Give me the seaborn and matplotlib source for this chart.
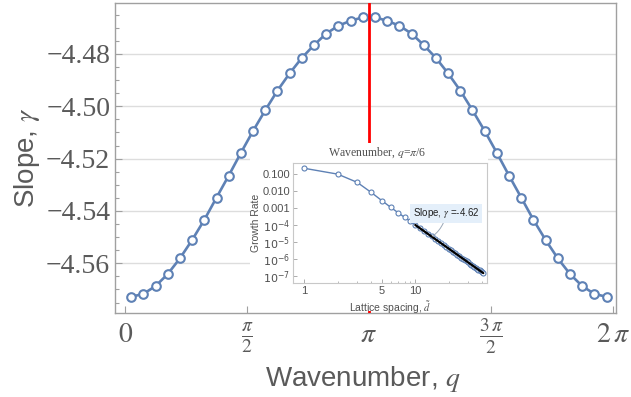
import numpy as np
import pandas as pd
import matplotlib
matplotlib.use("Agg")
import matplotlib.pyplot as plt
import seaborn as sns
from matplotlib.patches import Rectangle
from matplotlib.ticker import FixedLocator, MultipleLocator, NullFormatter, FixedFormatter

# ---------------- data ----------------
q_values = [0.0785, 0.2356, 0.3927, 0.5498, 0.7069, 0.8639, 1.0210, 1.1781, 1.3352, 1.4923,
            1.6493, 1.8064, 1.9635, 2.1206, 2.2777, 2.4347, 2.5918, 2.7489, 2.9060, 3.0631,
            3.2201, 3.3772, 3.5343, 3.6914, 3.8485, 4.0055, 4.1626, 4.3197, 4.4768, 4.6338,
            4.7909, 4.9480, 5.1051, 5.2622, 5.4192, 5.5763, 5.7334, 5.8905, 6.0476, 6.2046]
slope_values = [-4.5728, -4.5717, -4.5687, -4.5641, -4.5581, -4.5511, -4.5434, -4.5349, -4.5265, -4.5178,
                -4.5094, -4.5015, -4.4940, -4.4874, -4.4815, -4.4766, -4.4722, -4.4692, -4.4673, -4.4660,
                -4.4660, -4.4673, -4.4692, -4.4722, -4.4766, -4.4815, -4.4874, -4.4940, -4.5015, -4.5094,
                -4.5178, -4.5265, -4.5349, -4.5434, -4.5511, -4.5581, -4.5641, -4.5687, -4.5717, -4.5728]
highlight_q = [np.pi]

main_yticks = [-4.56, -4.54, -4.52, -4.50, -4.48]
main_ytick_labels = ["\u22124.56", "\u22124.54", "\u22124.52", "\u22124.50", "\u22124.48"]
main_xticks = [0, np.pi / 2, np.pi, 3 * np.pi / 2, 2 * np.pi]
main_xtick_labels = [r"$0$", r"$\frac{\pi}{2}$", r"$\pi$", r"$\frac{3\,\pi}{2}$", r"$2\,\pi$"]

lattice_d = [1, 2, 3, 4, 5, 6, 7, 8, 9, 10, 11, 12, 13, 14, 15, 16, 17, 18, 19, 20, 21,
             22, 23, 24, 25, 26, 27, 28, 29, 30, 31, 32, 33, 34, 35, 36, 37, 38, 39, 40, 41]
growth_rate = [0.216, 0.098, 0.032, 0.0083, 0.0027, 0.0011, 5.25e-4, 2.82e-4, 1.66e-4, 1.0e-4,
               6.44e-5, 4.31e-5, 2.98e-5, 2.11e-5, 1.54e-5, 1.14e-5, 8.61e-6, 6.62e-6, 5.16e-6, 4.07e-6,
               3.25e-6, 2.62e-6, 2.13e-6, 1.75e-6, 1.45e-6, 1.21e-6, 1.02e-6, 8.59e-7, 7.31e-7, 6.25e-7,
               5.37e-7, 4.64e-7, 4.02e-7, 3.50e-7, 3.06e-7, 2.69e-7, 2.37e-7, 2.10e-7, 1.86e-7, 1.65e-7,
               1.47e-7]
fit_d = [10, 41]
fit_growth = [1.0e-4, 1.47e-7]
fit_slope_text = "Slope, $\\gamma$ =-4.62"

inset_yticks = [1e-7, 1e-6, 1e-5, 1e-4, 1e-3, 1e-2, 1e-1]
inset_ytick_labels = [r"$10^{-7}$", r"$10^{-6}$", r"$10^{-5}$", r"$10^{-4}$", "0.001", "0.010", "0.100"]
inset_xticks = [1, 5, 10]
inset_xtick_labels = ["1", "5", "10"]

# ---------------- style ----------------
sns.set_theme(style="white")
plt.rcParams["mathtext.fontset"] = "stix"
plt.rcParams["font.family"] = ["Liberation Sans", "DejaVu Sans"]

BLUE = "#5E81B5"
FRAME = "#A0A0A0"
TXT = "#5A5A5A"

W, H = 631, 397
fig = plt.figure(figsize=(W / 100, H / 100), dpi=100)
fig.patch.set_facecolor("white")

def fx(px):
    return px / W

def fy(py):
    return 1 - py / H

# main axes
ax = fig.add_axes([fx(115), fy(313), fx(615.5) - fx(115), fy(2.7) - fy(313)])
df = pd.DataFrame({"q": q_values, "slope": slope_values})
sns.lineplot(data=df, x="q", y="slope", ax=ax, color=BLUE, lw=1.9, marker="o",
             markersize=6.2, markerfacecolor="white", markeredgecolor=BLUE,
             markeredgewidth=1.5, zorder=3)
for xv in highlight_q:
    ax.axvline(xv, color="red", lw=2.0, zorder=4)

ax.set_xlim(-0.13, 6.32)
ax.set_ylim(-4.5790, -4.4604)
ax.set_yticks(main_yticks)
ax.set_yticklabels(main_ytick_labels, family="Liberation Serif", fontsize=20, color=TXT)
ax.yaxis.set_minor_locator(MultipleLocator(0.005))
ax.set_xticks(main_xticks)
ax.set_xticklabels(main_xtick_labels, fontsize=20, color=TXT)
for lab in ax.get_xticklabels():
    lab.set_verticalalignment("baseline")
ax.tick_params(axis="y", which="major", direction="in", length=5, width=0.8, color=FRAME,
               pad=3.5, left=True, right=False)
ax.tick_params(axis="y", which="minor", direction="in", length=3, width=0.8, color=FRAME,
               left=True, right=False)
ax.tick_params(axis="x", which="major", direction="in", length=5, width=0.8, color=FRAME,
               pad=21, bottom=True, top=False)
ax.grid(axis="y", which="major", color="#DDDDDD", lw=1.0)
ax.grid(axis="x", visible=False)
for s in ax.spines.values():
    s.set_color(FRAME)
    s.set_linewidth(1.0)

ax.set_xlabel("Wavenumber, $q$", fontsize=20, color=TXT)
ax.set_ylabel("Slope, $\\gamma$", fontsize=20, color=TXT)
ax.xaxis.set_label_coords(0.495, -0.165)
ax.yaxis.set_label_coords(-0.145, 0.5)

# white background behind the inset (covers grid and red line)
fig.patches.append(Rectangle((fx(250), fy(311)), fx(488) - fx(250), fy(143) - fy(311),
                             transform=fig.transFigure, facecolor="white",
                             edgecolor="none", zorder=1))

# inset axes
ax2 = fig.add_axes([fx(293.3), fy(283.3), fx(486.7) - fx(293.3), fy(163.3) - fy(283.3)])
ax2.set_zorder(2)
dfi = pd.DataFrame({"d": lattice_d, "g": growth_rate})
sns.lineplot(data=dfi, x="d", y="g", ax=ax2, color=BLUE, lw=1.0, marker="o",
             markersize=3.6, markerfacecolor="white", markeredgecolor=BLUE,
             markeredgewidth=0.8, zorder=3)
ax2.plot(fit_d, fit_growth, color="black", lw=1.6, zorder=4)
ax2.set_xscale("log")
ax2.set_yscale("log")
ax2.set_xlim(0.796, 44)
ax2.set_ylim(3.7e-8, 0.425)
ax2.xaxis.set_major_locator(FixedLocator(inset_xticks))
ax2.xaxis.set_major_formatter(FixedFormatter(inset_xtick_labels))
ax2.xaxis.set_minor_locator(FixedLocator([2, 3, 4, 6, 7, 8, 9, 20, 30, 40]))
ax2.xaxis.set_minor_formatter(NullFormatter())
ax2.yaxis.set_major_locator(FixedLocator(inset_yticks))
ax2.yaxis.set_major_formatter(FixedFormatter(inset_ytick_labels))
ax2.yaxis.set_minor_locator(FixedLocator([]))
ax2.tick_params(which="major", direction="in", length=3, width=0.6, color=FRAME,
                labelsize=8, labelcolor="#505050", pad=2, top=False, right=False,
                left=True, bottom=True)
ax2.tick_params(which="minor", direction="in", length=1.8, width=0.5, color=FRAME,
                top=False, right=False, bottom=True)
for lab in ax2.get_yticklabels():
    lab.set_math_fontfamily("dejavusans")
ax2.grid(False)
for s in ax2.spines.values():
    s.set_color("#C8C8C8")
    s.set_linewidth(0.8)
ax2.set_xlabel("Lattice spacing, $\\tilde{d}$", fontsize=7.5, color="#505050", labelpad=1)
ax2.set_ylabel("Growth Rate", fontsize=7.5, color="#505050", labelpad=1)
ax2.xaxis.set_label_coords(0.5, -0.13)
ax2.yaxis.set_label_coords(-0.165, 0.5)

ax2.annotate(fit_slope_text, xy=(14.4, 2.2e-5), xycoords="data",
             xytext=(fx(446), fy(213.5)), textcoords="figure fraction",
             fontsize=7, color="#202020", ha="center", va="center",
             bbox=dict(boxstyle="square,pad=0.25", facecolor="#E4EFFA", edgecolor="none"),
             arrowprops=dict(arrowstyle="-", color="#9AA8B8", lw=0.7,
                             connectionstyle="arc3,rad=-0.2", shrinkA=0, shrinkB=0),
             zorder=6)

fig.text(fx(377), fy(153), "Wavenumber, $q$=$\\pi$/6", family="Liberation Serif",
         fontsize=8.5, color="#505050", ha="center", va="center", zorder=3)

fig.savefig("out.png", dpi=100, facecolor="white")
